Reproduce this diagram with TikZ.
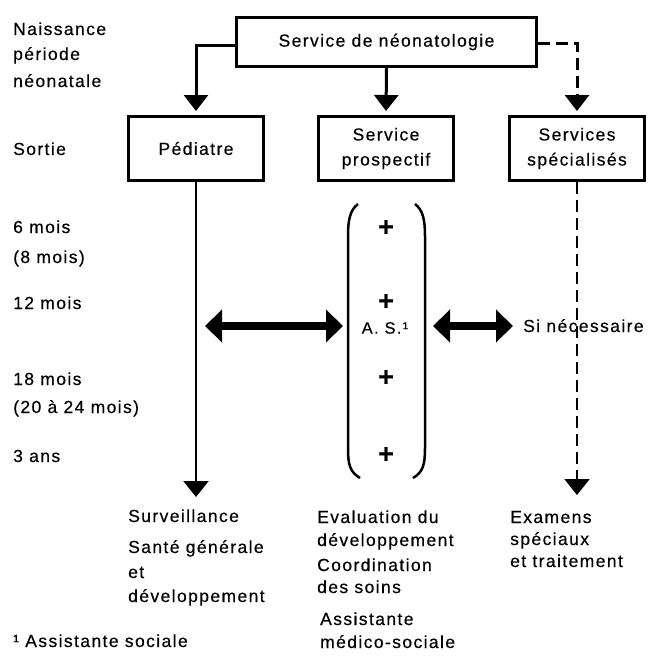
\documentclass[tikz,border=0pt]{standalone}
\usepackage{fontspec}
\setmainfont{Liberation Sans}[LetterSpace=8,FakeBold=0.4]
\usetikzlibrary{arrows.meta}
\newcommand\txt{\fontsize{17.5}{25}\selectfont}
\begin{document}
\begin{tikzpicture}[x=1pt,y=-1pt,
  lbl/.style={anchor=base west, inner sep=0pt, font=\txt},
  box/.style={draw, line width=3pt, minimum width=135pt, minimum height=64pt, inner sep=0pt, align=center, font=\txt},
  conn/.style={line width=3pt, shorten >=4pt, -{Triangle[width=24pt,length=16pt]}},
  dashline/.style={dash pattern=on 12pt off 6pt},
  longline/.style={line width=2pt, -{Triangle[width=25pt,length=16pt]}},
  dbl/.style={line width=8pt, {Triangle[width=32pt,length=17pt]}-{Triangle[width=32pt,length=17pt]}},
  paren/.style={line width=2.5pt},
  plus/.style={inner sep=0pt, font=\bfseries\fontsize{27}{27}\selectfont}]
\useasboundingbox (0,0) rectangle (650,659);

% boxes
\node[box, minimum width=300pt, minimum height=49pt] (tb) at (386.5,42) {Service de néonatologie};
\node[box] (ped) at (196,148.5) {Pédiatre};
\node[box] (pros) at (386,148.5) {Service\\prospectif};
\node[box] (spec) at (577,148.5) {Services\\spécialisés};

% top connectors
\draw[conn] ([yshift=-3pt]tb.west) -| (ped.north);
\draw[conn] (tb.south) -- (pros.north);
\draw[conn, dashline] ([yshift=-1pt]tb.east) -| (spec.north);

% long lines
\coordinate (pedEnd) at (196,497);
\coordinate (specEnd) at (577,495);
\draw[longline] (ped.south) -- (pedEnd);
\draw[longline, dashline] (spec.south) -- (specEnd);

% parentheses
\draw[paren] (358,204) .. controls (350,210) and (348,220) .. (348,236) -- (348,448) .. controls (348,465) and (350,472) .. (360,478);
\draw[paren] (415,204) .. controls (423,210) and (425,220) .. (425,236) -- (425,448) .. controls (425,465) and (423,472) .. (413,478);

% pluses
\node[plus] (p1) at (386,228) {+};
\node[plus] (p2) at (386,302) {+};
\node[plus] (p3) at (386,378) {+};
\node[plus] (p4) at (386,455) {+};
\node[inner sep=0pt, font=\fontsize{16.5}{16.5}\selectfont] (as) at (385,328) {A. S.¹};

% double arrows
\coordinate (dl1) at (205,326);
\coordinate (dl2) at (343,326);
\coordinate (dr1) at (433,326);
\coordinate (dr2) at (513,326);
\draw[dbl] (dl1) -- (dl2);
\draw[dbl] (dr1) -- (dr2);
\node[lbl] (si) at (523,332) {Si nécessaire};

% left time labels
\node[lbl] (l1) at (13,35) {Naissance};
\node[lbl] (l2) at (13,60) {période};
\node[lbl] (l3) at (13,87) {néonatale};
\node[lbl] (l4) at (13,155) {Sortie};
\node[lbl] (l5) at (13,233) {6 mois};
\node[lbl] (l6) at (13,263) {(8 mois)};
\node[lbl] (l7) at (13,309) {12 mois};
\node[lbl] (l8) at (13,385) {18 mois};
\node[lbl] (l9) at (13,413) {(20 à 24 mois)};
\node[lbl] (l10) at (13,462) {3 ans};

% bottom texts
\node[lbl] (a1) at (128,522) {Surveillance};
\node[lbl] (a2) at (128,553) {Santé générale};
\node[lbl] (a3) at (128,578) {et};
\node[lbl] (a4) at (128,602) {développement};

\node[lbl] (b1) at (317,523) {Evaluation du};
\node[lbl] (b2) at (317,546) {développement};
\node[lbl] (b3) at (317,571) {Coordination};
\node[lbl] (b4) at (317,593) {des soins};
\node[lbl] (b5) at (320,625) {Assistante};
\node[lbl] (b6) at (320,648) {médico-sociale};

\node[lbl] (c1) at (510,523) {Examens};
\node[lbl] (c2) at (510,545) {spéciaux};
\node[lbl] (c3) at (510,567) {et traitement};

\node[lbl] (fn) at (13,647) {¹ Assistante sociale};
\end{tikzpicture}
\end{document}
